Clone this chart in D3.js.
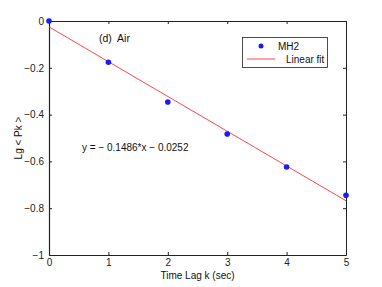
<!DOCTYPE html>
<html><head><meta charset="utf-8">
<script src="https://cdn.jsdelivr.net/npm/d3@7"></script>
<style>body{margin:0;background:#fff}svg text{font-family:"Liberation Sans",Arial,sans-serif;white-space:pre}</style>
</head><body><svg id="c" width="382" height="287"></svg>
<script>
const lagK = [0, 1, 2, 3, 4, 5];
const lgPk = [0, -0.176, -0.346, -0.483, -0.624, -0.745];
const fitSlope = -0.1486, fitIntercept = -0.0252;
const xTicks = [0, 1, 2, 3, 4, 5];
const yTicks = [0, -0.2, -0.4, -0.6, -0.8, -1];

const svg = d3.select("#c");
const L = 49, R = 346, T = 21, B = 255;
const x = d3.scaleLinear().domain([0, 5]).range([L, R]);
const y = d3.scaleLinear().domain([-1, 0]).range([B, T]);
const fmt = d => d === 0 ? "0" : d3.format("")(d).replace("-", "\u2212");

const fs = "10px";
const gx = svg.append("g").attr("transform", `translate(0,${B})`)
  .call(d3.axisBottom(x).tickValues(xTicks).tickSizeInner(-3).tickSizeOuter(0).tickPadding(4).tickFormat(fmt));
const gxt = svg.append("g").attr("transform", `translate(0,${T})`)
  .call(d3.axisTop(x).tickValues(xTicks).tickSizeInner(-3).tickSizeOuter(0).tickFormat(""));
const gy = svg.append("g").attr("transform", `translate(${L},0)`)
  .call(d3.axisLeft(y).tickValues(yTicks).tickSizeInner(-3).tickSizeOuter(0).tickPadding(5).tickFormat(fmt));
const gyr = svg.append("g").attr("transform", `translate(${R},0)`)
  .call(d3.axisRight(y).tickValues(yTicks).tickSizeInner(-3).tickSizeOuter(0).tickFormat(""));
[gx, gxt, gy, gyr].forEach(g => {
  g.selectAll("path").attr("stroke", "#222");
  g.selectAll("line").attr("stroke", "#222");
  g.selectAll("text").attr("font-size", fs).attr("fill", "#222").attr("font-family", '"Liberation Sans",Arial,sans-serif');
});
gx.selectAll(".domain").attr("stroke-width", 1.2);
gy.selectAll(".domain").attr("stroke-width", 1.2);

svg.append("line")
  .attr("x1", x(0)).attr("y1", y(fitIntercept))
  .attr("x2", x(5)).attr("y2", y(fitSlope * 5 + fitIntercept))
  .attr("stroke", "#ff3333").attr("stroke-width", 0.9);

svg.selectAll("circle.pt").data(lagK).join("circle").attr("class", "pt")
  .attr("cx", (d) => x(d)).attr("cy", (d, i) => y(lgPk[i])).attr("r", 2.8).attr("fill", "#1a1aff");

svg.append("text").attr("x", 99).attr("y", 42).attr("font-size", "10.5px").attr("fill", "#111").text("(d)  Air");
svg.append("text").attr("x", 82).attr("y", 151).attr("font-size", "10px").attr("fill", "#111")
  .text("y = \u2212 0.1486*x \u2212 0.0252");

svg.append("rect").attr("x", 242.5).attr("y", 37.5).attr("width", 85).attr("height", 30)
  .attr("fill", "#fff").attr("stroke", "#222").attr("stroke-width", 0.8);
svg.append("circle").attr("cx", 261).attr("cy", 46).attr("r", 2.5).attr("fill", "#1a1aff");
svg.append("text").attr("x", 278).attr("y", 50).attr("font-size", "10px").attr("fill", "#111").text("MH2");
svg.append("line").attr("x1", 247).attr("x2", 275).attr("y1", 59).attr("y2", 59).attr("stroke", "#ff3333").attr("stroke-width", 0.9);
svg.append("text").attr("x", 286).attr("y", 63).attr("font-size", "10px").attr("fill", "#111").text("Linear fit");

svg.append("text").attr("x", (L + R) / 2).attr("y", 279).attr("text-anchor", "middle")
  .attr("font-size", "10px").attr("fill", "#111").text("Time Lag k (sec)");
svg.append("text").attr("transform", `translate(22,${(T + B) / 2}) rotate(-90)`).attr("text-anchor", "middle")
  .attr("font-size", "10px").attr("fill", "#111").text("Lg < Pk >");
</script></body></html>
